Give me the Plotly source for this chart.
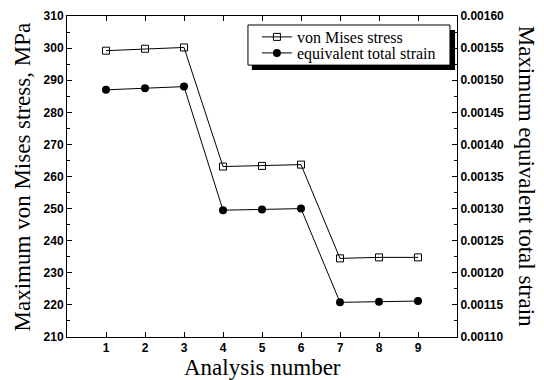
import plotly.graph_objects as go

analysis = [1, 2, 3, 4, 5, 6, 7, 8, 9]
stress = [299.2, 299.8, 300.2, 263.1, 263.3, 263.7, 234.5, 234.8, 234.8]
strain = [0.001485, 0.0014875, 0.00149, 0.0012975, 0.0012985, 0.0013, 0.001154, 0.001155, 0.001156]

left_ticks = [210, 220, 230, 240, 250, 260, 270, 280, 290, 300, 310]
right_ticks = [0.00110, 0.00115, 0.00120, 0.00125, 0.00130, 0.00135, 0.00140, 0.00145, 0.00150, 0.00155, 0.00160]

fig = go.Figure()
fig.add_trace(go.Scatter(
    x=analysis, y=stress, name="von Mises stress", mode="lines+markers",
    line=dict(color="black", width=1),
    marker=dict(symbol="square-open", size=7, color="black", line=dict(width=1)),
    yaxis="y", legend="legend"))
fig.add_trace(go.Scatter(
    x=analysis, y=strain, name="equivalent total strain", mode="lines+markers",
    line=dict(color="black", width=1),
    marker=dict(symbol="circle", size=8, color="black"),
    yaxis="y2", legend="legend2"))

tickfont = dict(family="Liberation Sans, Arial", size=12, color="black", weight="bold")
axcommon = dict(showline=True, linecolor="black", linewidth=1, ticks="inside",
                tickcolor="black", ticklen=5, tickwidth=1, showgrid=False,
                zeroline=False, tickfont=tickfont, automargin=False)

serif = "Liberation Serif, Times New Roman"
legfont = dict(family=serif, size=16, color="black")

fig.update_layout(
    width=536, height=372,
    margin=dict(l=59, r=87, t=8, b=43, autoexpand=False),
    paper_bgcolor="white", plot_bgcolor="white",
    showlegend=True,
    legend=dict(x=0.487, y=0.9346, xanchor="left", yanchor="middle",
                bgcolor="rgba(0,0,0,0)", borderwidth=0, font=legfont, itemwidth=30),
    legend2=dict(x=0.487, y=0.8847, xanchor="left", yanchor="middle",
                 bgcolor="rgba(0,0,0,0)", borderwidth=0, font=legfont, itemwidth=30),
    xaxis=dict(range=[0, 10], tickvals=analysis, ticktext=[str(a) for a in analysis],
               mirror="ticks", **axcommon),
    yaxis=dict(range=[210, 310], tickvals=left_ticks, ticktext=[str(t) for t in left_ticks],
               minor=dict(dtick=5, ticks="inside", ticklen=3, tickcolor="black"),
               **axcommon),
    yaxis2=dict(range=[0.0011, 0.0016], overlaying="y", side="right",
                tickvals=right_ticks, ticktext=["%.5f" % t for t in right_ticks],
                minor=dict(dtick=0.000025, ticks="inside", ticklen=3, tickcolor="black"),
                **axcommon),
)

fig.add_annotation(text="Analysis number", xref="paper", yref="paper", x=0.5, y=-0.094,
                   xanchor="center", yanchor="middle", showarrow=False,
                   font=dict(family=serif, size=23, color="black"))
fig.add_annotation(text="Maximum von Mises stress, MPa", xref="paper", yref="paper",
                   x=-0.113, y=0.5, textangle=-90, xanchor="center", yanchor="middle",
                   showarrow=False,
                   font=dict(family=serif, size=23, color="black"))
fig.add_annotation(text="Maximum equivalent total strain", xref="paper", yref="paper",
                   x=1.179, y=0.5, textangle=90, xanchor="center", yanchor="middle",
                   showarrow=False,
                   font=dict(family=serif, size=23, color="black"))

# legend drop shadow and box
fig.add_shape(type="rect", xref="paper", yref="paper", x0=0.474, x1=0.995, y0=0.832, y1=0.956,
              fillcolor="black", line=dict(width=0), layer="above")
fig.add_shape(type="rect", xref="paper", yref="paper", x0=0.464, x1=0.982, y0=0.847, y1=0.972,
              fillcolor="white", line=dict(color="black", width=1), layer="above")

fig.write_html("out.html")
